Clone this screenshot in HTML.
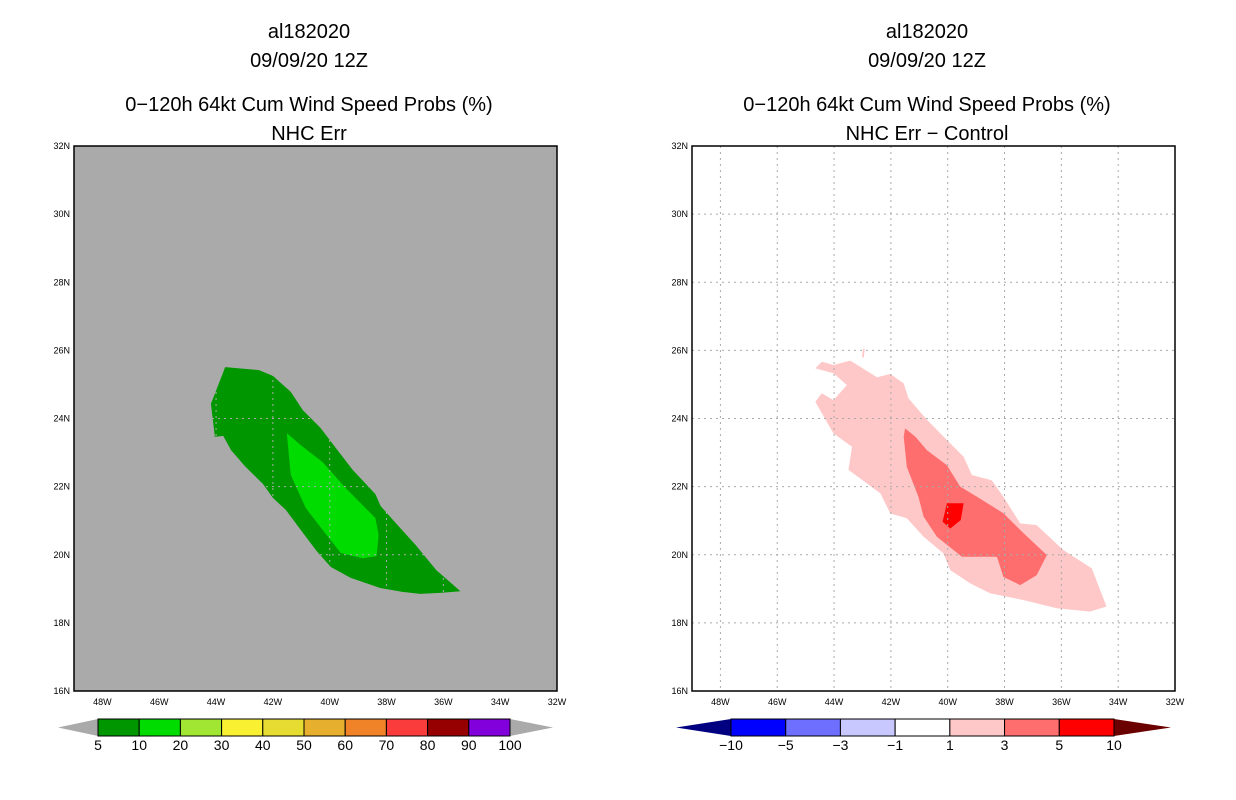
<!DOCTYPE html>
<html><head><meta charset="utf-8"><style>
html,body{margin:0;padding:0;background:#fff;width:1236px;height:800px;overflow:hidden}
svg{display:block}
text{font-family:"Liberation Sans",sans-serif}
</style></head><body>
<svg id="s" width="1236" height="800" xmlns="http://www.w3.org/2000/svg"></svg>
<script>
// ---- data ----
const lonTicks=[48,46,44,42,40,38,36,34,32];
const latTicks=[32,30,28,26,24,22,20,18,16];
const probLevels=["5","10","20","30","40","50","60","70","80","90","100"];
const probColors=["#009600","#00dc00","#a0e632","#faf032","#e6dc32","#e6af2d","#f08228","#fa3c3c","#960000","#8200dc"];
const diffLevels=["-10","-5","-3","-1","1","3","5","10"];
const diffColors=["#0000ff","#6e6eff","#c8c8ff","#ffffff","#ffc8c8","#ff6e6e","#ff0000"];
const probDarkLon=[43.68,42.49,42.0,41.37,40.95,40.32,39.68,39.19,38.39,38.21,37.58,36.98,36.25,35.4,36.11,36.81,37.44,38.21,39.26,39.96,40.46,41.02,41.54,42.0,42.35,42.98,43.47,43.75,44.04,44.18];
const probDarkLat=[25.51,25.42,25.25,24.78,24.25,23.72,23.02,22.49,21.78,21.43,20.84,20.29,19.55,18.93,18.88,18.85,18.91,19.02,19.32,19.64,20.11,20.73,21.31,21.67,22.08,22.6,23.07,23.49,23.46,24.43];
const probLightLon=[41.51,41.02,40.25,39.44,38.39,38.28,38.35,38.84,39.61,40.25,40.84,41.37];
const probLightLat=[23.57,23.22,22.72,21.96,21.08,20.58,19.96,19.9,20.05,20.73,21.37,22.34];
const diff1Lon=[44.66,44.43,44.02,43.43,42.49,42.02,41.55,41.38,40.73,40.03,39.44,39.15,38.45,38.04,37.45,36.87,35.93,34.93,34.41,34.99,36.16,37.33,38.51,39.21,39.91,40.15,40.85,41.44,42.02,42.37,43.49,43.37,44.02,44.66,44.43,44.02,43.55,44.02];
const diff1Lat=[25.47,25.67,25.57,25.7,25.21,25.31,25.03,24.59,23.96,23.37,22.88,22.34,22.19,21.7,20.92,20.87,20.14,19.6,18.48,18.33,18.43,18.67,18.87,19.16,19.55,20.04,20.53,21.07,21.21,21.8,22.49,23.17,23.56,24.49,24.74,24.54,24.98,25.33];
const diff3Lon=[41.5,41.14,40.73,40.03,39.56,38.97,38.04,37.33,36.51,36.87,37.45,38.04,38.27,39.5,40.38,40.85,41.03,41.44,41.55];
const diff3Lat=[23.71,23.47,23.07,22.63,22.0,21.7,21.22,20.63,19.99,19.4,19.11,19.35,19.94,19.94,20.53,21.12,21.7,22.58,23.47];
const diff5Lon=[40.03,39.44,39.54,39.91,40.18];
const diff5Lat=[21.51,21.51,21.02,20.77,20.97];
const speckLon=[42.98,42.92,42.95,43.02];
const speckLat=[26.05,26.05,25.8,25.8];

// ---- drawing ----
const S=document.getElementById('s');const NS='http://www.w3.org/2000/svg';
function mk(t,a,p){const e=document.createElementNS(NS,t);for(const k in a)e.setAttribute(k,a[k]);(p||S).appendChild(e);return e;}
function panel(x0){
  const X0=x0,X1=x0+483,Y0=146,Y1=691;
  const xs=w=>X0+(49-w)*(X1-X0)/17;
  const ys=n=>Y0+(32-n)*(Y1-Y0)/16;
  return {xs,ys,X0,X1,Y0,Y1};
}
function poly(P,lon,lat,fill,name){
  const pts=lon.map((w,i)=>P.xs(w).toFixed(1)+','+P.ys(lat[i]).toFixed(1)).join(' ');
  const e=mk('polygon',{points:pts,fill:fill});
  
  
}
function frame(P,cx,titles,bg,gridColor){
  mk('rect',{x:P.X0,y:P.Y0,width:P.X1-P.X0,height:P.Y1-P.Y0,fill:bg});
  return ()=>{
    lonTicks.forEach(w=>{const x=P.xs(w);
      if(w<48.9&&w>32.1)mk('line',{x1:x,y1:P.Y0,x2:x,y2:P.Y1,stroke:gridColor,'stroke-width':1,'stroke-dasharray':'2,4'});
      const t=mk('text',{x:x,y:P.Y1+14,'font-size':9,'text-anchor':'middle'});t.textContent=w+'W';
      });
    latTicks.forEach(n=>{const y=P.ys(n);
      if(n<32&&n>16)mk('line',{x1:P.X0,y1:y,x2:P.X1,y2:y,stroke:gridColor,'stroke-width':1,'stroke-dasharray':'2,4'});
      const t=mk('text',{x:P.X0-4,y:y+3,'font-size':9,'text-anchor':'end'});t.textContent=n+'N';
      });
    const r=mk('rect',{x:P.X0,y:P.Y0,width:P.X1-P.X0,height:P.Y1-P.Y0,fill:'none',stroke:'#000','stroke-width':1.5});
    
    [30,59,103,132].forEach((y,i)=>{const t=mk('text',{x:cx,y:y+8,'font-size':20,'text-anchor':'middle'});t.textContent=titles[i];
      });
  };
}
function colorbar(x0,x1,t0,t1,colors,labels,lc,rc,name){
  const y0=719,y1=736,ym=727.5,w=(x1-x0)/colors.length;
  const g=mk('g',{});
  mk('polygon',{points:`${t0},${ym} ${x0},${y0} ${x0},${y1}`,fill:lc},g);
  mk('polygon',{points:`${t1},${ym} ${x1},${y0} ${x1},${y1}`,fill:rc},g);
  colors.forEach((c,i)=>{const r=mk('rect',{x:x0+i*w,y:y0,width:w,height:y1-y0,fill:c,stroke:'#000','stroke-width':1},g);
    });
  labels.forEach((l,i)=>{const t=mk('text',{x:x0+i*w,y:750,'font-size':14,'text-anchor':'middle'},g);t.textContent=l.replace('-','\u2212');
    });
}
// left
const L=panel(74);
const fl=frame(L,309,['al182020','09/09/20 12Z','0\u2212120h 64kt Cum Wind Speed Probs (%)','NHC Err'],'#aaaaaa','#aaaaaa');
poly(L,probDarkLon,probDarkLat,probColors[0],'prob-5-10-region');
poly(L,probLightLon,probLightLat,probColors[1],'prob-10-20-region');
fl();
colorbar(98,510,58,553,probColors,probLevels,'#aaaaaa','#aaaaaa','prob-colorbar');
// right
const R=panel(692);
const fr=frame(R,927,['al182020','09/09/20 12Z','0\u2212120h 64kt Cum Wind Speed Probs (%)','NHC Err \u2212 Control'],'#ffffff','#aaaaaa');
poly(R,diff1Lon,diff1Lat,diffColors[4],'diff-1-3-region');
poly(R,speckLon,speckLat,diffColors[4],'diff-speck');
poly(R,diff3Lon,diff3Lat,diffColors[5],'diff-3-5-region');
poly(R,diff5Lon,diff5Lat,diffColors[6],'diff-5-10-region');
fr();
colorbar(731,1114,676,1171,diffColors,diffLevels,'#000080','#6b0000','diff-colorbar');
</script>
</body></html>
